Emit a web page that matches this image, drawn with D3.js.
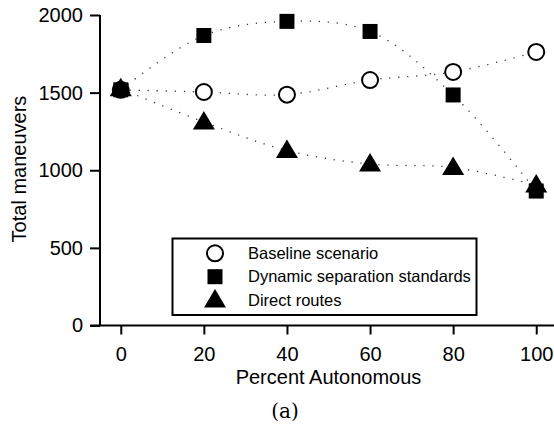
<!doctype html>
<html>
<head>
<meta charset="utf-8">
<script src="https://cdn.jsdelivr.net/npm/d3@7"></script>
<style>
  body { margin: 0; background: #fff; }
  svg { display: block; font-family: "Liberation Sans", Arial, sans-serif; }
</style>
</head>
<body>
<script>
// Data.
const percents = [0, 20, 40, 60, 80, 100];
const baseline = [1518, 1504, 1487, 1581, 1633, 1762];
const dynamicSep = [1518, 1868, 1959, 1894, 1485, 866];
const directRoutes = [1525, 1311, 1127, 1040, 1018, 905];
const seriesNames = ["Baseline scenario", "Dynamic separation standards", "Direct routes"];
const xTicks = [0, 20, 40, 60, 80, 100];
const yTicks = [0, 500, 1000, 1500, 2000];

const width = 554;
const height = 426;

const x = d3.scaleLinear([-5, 105], [100, 557]);
const y = d3.scaleLinear([0, 2000], [325.5, 15]);

const svg = d3.select("body").append("svg")
    .attr("width", width)
    .attr("height", height)
    .attr("viewBox", [0, 0, width, height]);

const series = [
  {name: seriesNames[0], values: baseline, symbol: "circle"},
  {name: seriesNames[1], values: dynamicSep, symbol: "square"},
  {name: seriesNames[2], values: directRoutes, symbol: "triangle"}
];

// Marker drawing helper.
function marker(g, symbol, cx, cy) {
  if (symbol === "circle") {
    g.append("circle")
        .attr("cx", cx).attr("cy", cy).attr("r", 8)
        .attr("fill", "#fff").attr("stroke", "#000").attr("stroke-width", 2);
  } else if (symbol === "square") {
    g.append("rect")
        .attr("x", cx - 7.5).attr("y", cy - 7.5)
        .attr("width", 15).attr("height", 15)
        .attr("fill", "#000");
  } else {
    g.append("path")
        .attr("d", `M${cx},${cy - 11}L${cx + 11},${cy + 7.5}L${cx - 11},${cy + 7.5}Z`)
        .attr("fill", "#000");
  }
}

// Dotted smooth lines.
const line = d3.line()
    .x((d, i) => x(percents[i]))
    .y((d) => y(d))
    .curve(d3.curveCatmullRom.alpha(0.5));

svg.append("g")
    .attr("fill", "none")
    .attr("stroke", "#333")
    .attr("stroke-width", 1.3)
    .attr("stroke-dasharray", "1.2,7.8")
  .selectAll("path")
  .data(series)
  .join("path")
    .attr("d", (s) => line(s.values));

// Markers.
const markers = svg.append("g");
series.forEach((s) => {
  s.values.forEach((v, i) => marker(markers, s.symbol, x(percents[i]), y(v)));
});

// Axes.
const yAxis = svg.append("g")
    .attr("transform", `translate(${x(-5)},0)`)
    .call(d3.axisLeft(y).tickValues(yTicks).tickFormat(d3.format("d"))
      .tickSize(10).tickSizeOuter(0).tickPadding(7));

const xAxis = svg.append("g")
    .attr("transform", `translate(0,${y(0)})`)
    .call(d3.axisBottom(x).tickValues(xTicks).tickFormat(d3.format("d"))
      .tickSize(9).tickSizeOuter(0).tickPadding(12));

[yAxis, xAxis].forEach((g) => {
  g.selectAll(".domain").attr("stroke-width", 2);
  g.selectAll(".tick line").attr("stroke-width", 2);
  g.selectAll(".tick text")
      .attr("font-size", 20)
      .attr("font-family", "Liberation Sans, Arial, sans-serif")
      .attr("fill", "#000");
});
yAxis.select(".domain").attr("d", `M0,${y(0)}V${y(2000)}`);
xAxis.select(".domain").attr("d", `M${x(-5) - 10},0H${width + 5}`);

// Axis labels.
svg.append("text")
    .attr("x", 328.5)
    .attr("y", 384)
    .attr("text-anchor", "middle")
    .attr("font-size", 20)
    .text("Percent Autonomous");

svg.append("text")
    .attr("transform", "translate(26,169) rotate(-90)")
    .attr("text-anchor", "middle")
    .attr("font-size", 20)
    .text("Total maneuvers");

svg.append("text")
    .attr("x", 285)
    .attr("y", 418)
    .attr("text-anchor", "middle")
    .attr("font-family", "'DejaVu Serif', 'Liberation Serif', serif")
    .attr("font-size", 20)
    .text("(a)");

// Legend.
const legend = svg.append("g");
legend.append("rect")
    .attr("x", 172.5).attr("y", 238.5)
    .attr("width", 304).attr("height", 76.5)
    .attr("fill", "#fff").attr("stroke", "#000").attr("stroke-width", 2);

series.forEach((s, i) => {
  const ly = 253.3 + i * 23.4;
  marker(legend, s.symbol, 215, ly);
  legend.append("text")
      .attr("x", 248)
      .attr("y", ly)
      .attr("dy", "0.35em")
      .attr("font-size", 16.5)
      .text(s.name);
});
</script>
</body>
</html>
